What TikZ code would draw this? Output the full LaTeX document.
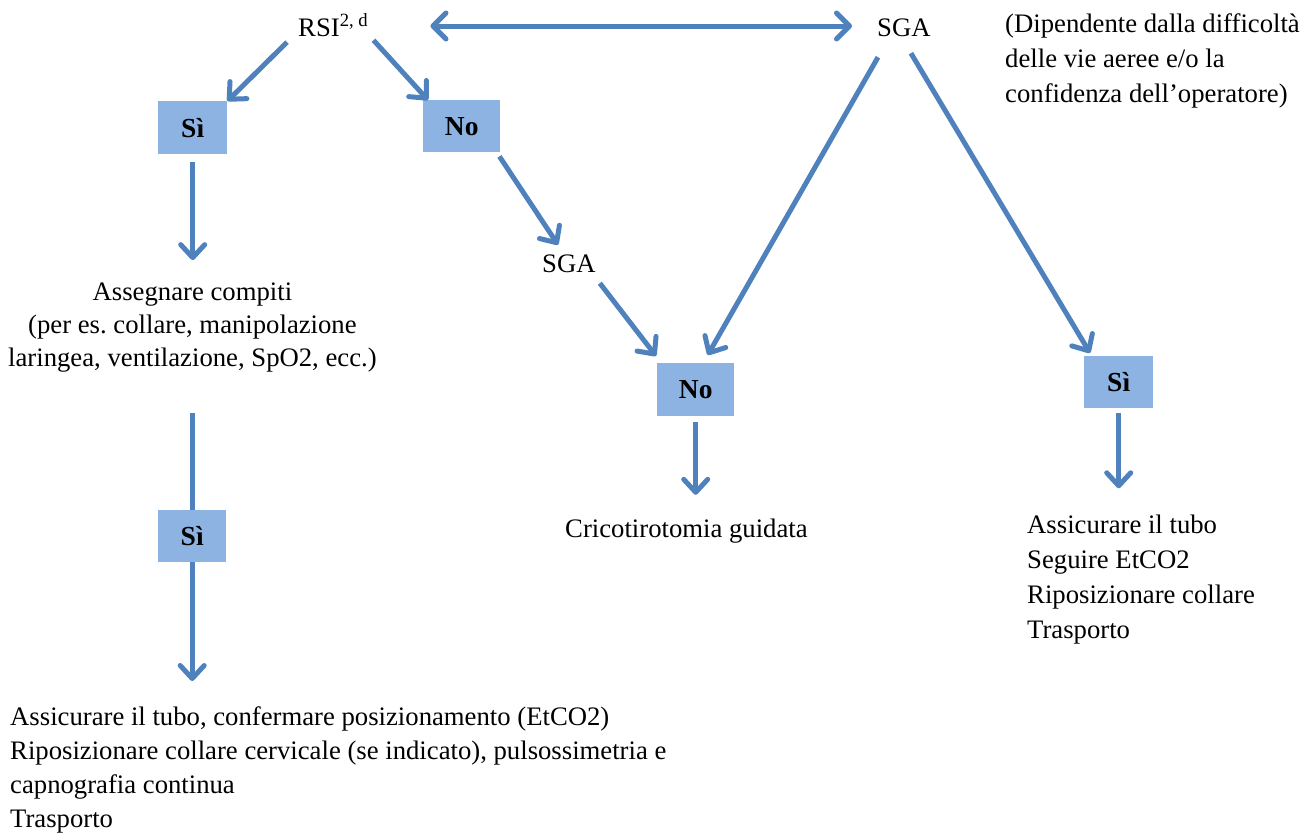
\documentclass[tikz,border=0pt]{standalone}
\usepackage{fontspec}
\setmainfont{Liberation Serif}
\usepackage{tikz}
\usetikzlibrary{arrows.meta,positioning}
\definecolor{arrowblue}{RGB}{79,129,189}
\definecolor{boxblue}{RGB}{141,179,226}
\frenchspacing

\begin{document}
\begin{tikzpicture}[x=1pt, y=-1pt, every node/.style={font=\fontsize{26.7}{35}\selectfont},
  lbl/.style={inner sep=0pt, text height=20pt, text depth=0pt, anchor=base west},
  txt/.style={inner sep=0pt, anchor=base west, align=left},
  box/.style={fill=boxblue, inner sep=0pt, anchor=north west, minimum width=69pt, minimum height=53pt,
    font=\fontsize{27.5}{35}\selectfont\bfseries},
  arr/.style={draw=arrowblue, line width=5pt, -{Straight Barb[round, length=13pt, width=24pt]}},
  dblarr/.style={draw=arrowblue, line width=5pt, {Straight Barb[round, length=13pt, width=26pt]}-{Straight Barb[round, length=13pt, width=26pt]}},
  ln/.style={draw=arrowblue, line width=5pt}]
\useasboundingbox (0,0) rectangle (1311,835);
\node[lbl] (rsi) at (298,36) {RSI\textsuperscript{2, d}};
\node[lbl] (sgatop) at (877,36) {SGA};
\node[txt] (note) at (1005,102) {(Dipendente dalla difficoltà\\delle vie aeree e/o la\\confidenza dell’operatore)};
\node[box] (si1) at (158,101) {Sì};
\node[box, minimum width=77pt, minimum height=52pt] (no1) at (423,100) {No};
\node[txt, align=center, font=\fontsize{26.7}{33}\selectfont] (compiti) at (8,366)
  {Assegnare compiti\\(per es. collare, manipolazione\\laringea, ventilazione, SpO2, ecc.)};
\node[box, minimum width=68pt, minimum height=52pt] (si2) at (158,510) {Sì};
\node[txt, font=\fontsize{26.7}{34}\selectfont] (finale) at (10,827)
  {Assicurare il tubo, confermare posizionamento (EtCO2)\\Riposizionare collare cervicale (se indicato), pulsossimetria e\\capnografia continua\\Trasporto};
\node[lbl] (sgamid) at (542,272) {SGA};
\node[box, minimum width=77pt] (no2) at (657,363) {No};
\node[lbl] (crico) at (565,537) {Cricotirotomia guidata};
\node[box, minimum height=52pt] (si3) at (1084,356) {Sì};
\node[txt] (fissare) at (1027,638) {Assicurare il tubo\\Seguire EtCO2\\Riposizionare collare\\Trasporto};

\draw[dblarr, shorten <=62pt, shorten >=25pt] (rsi.east) -- (sgatop.west);
\draw[arr] ([shift={(-11,6)}]rsi.south west) -- (si1.north east);
\draw[arr] ([shift={(5,4)}]rsi.south east) -- ([xshift=5pt]no1.north west);
\draw[arr] ([shift={(-1,4)}]no1.south east) -- ([shift={(16,-7)}]sgamid.north west);
\draw[arr] ([shift={(4,11)}]sgamid.south east) -- ([shift={(-1,-7)}]no2.north west);
\draw[arr] ([shift={(1,21)}]sgatop.south west) -- ([shift={(12,-8)}]no2.north);
\draw[arr] ([shift={(7,17)}]sgatop.south) -- ([shift={(6,-3)}]si3.north west);
\draw[arr, shorten <=8pt, shorten >=22pt] (si1.south) -- (si1.south |- compiti.north);
\draw[ln, shorten <=41pt] (si2.north |- compiti.south) -- (si2.north);
\draw[arr, shorten >=25pt] (si2.south) -- (si2.south |- finale.north);
\draw[arr, shorten <=6pt, shorten >=22pt] (no2.south) -- (no2.south |- crico.north);
\draw[arr, shorten <=5pt, shorten >=26pt] (si3.south) -- (si3.south |- fissare.north);
\end{tikzpicture}
\end{document}
